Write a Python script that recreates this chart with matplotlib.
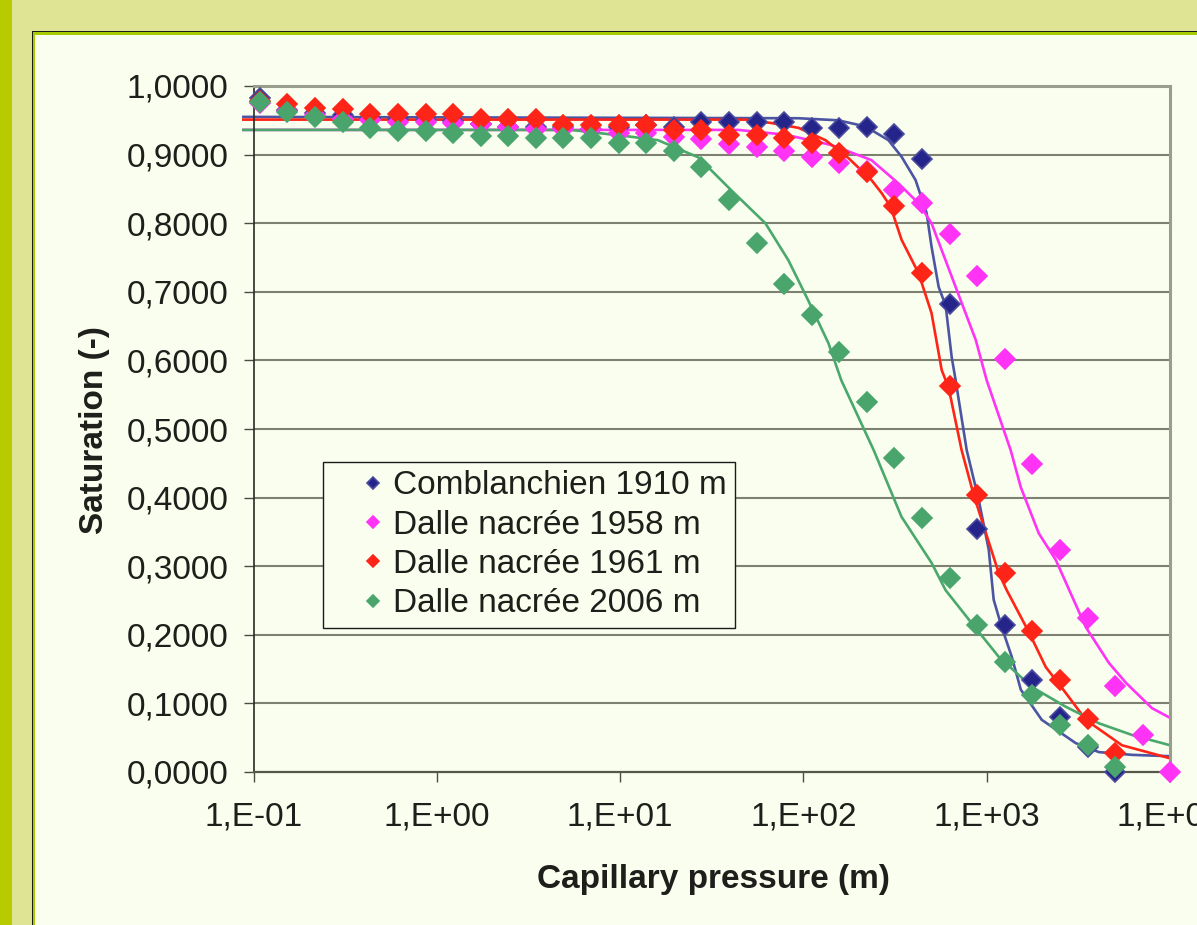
import matplotlib
matplotlib.use("Agg")
import matplotlib.pyplot as plt
from matplotlib.patches import Rectangle
from matplotlib.ticker import FixedLocator, FixedFormatter, NullLocator

plt.rcParams['font.family'] = ['Liberation Sans', 'DejaVu Sans']

# ---------------- data ----------------
pressure = [0.108, 0.153, 0.217, 0.307, 0.434, 0.614, 0.868, 1.23, 1.74, 2.45,
            3.47, 4.91, 6.94, 9.82, 13.9, 19.6, 27.8, 39.3, 55.5, 78.5,
            111, 157, 222, 314, 444, 628, 888, 1256, 1777, 2512,
            3553, 5023, 7104, 10000]

comb_1910 = [0.982, 0.965, 0.960, 0.957, 0.953, 0.952, 0.950, 0.949, 0.945, 0.940,
             0.940, 0.940, 0.938, 0.940, 0.943, 0.940, 0.948, 0.948, 0.948, 0.948,
             0.939, 0.939, 0.940, 0.930, 0.894, 0.682, 0.354, 0.214, 0.134, 0.080,
             0.036, 0.000]
dalle_1958 = [0.975, 0.963, 0.958, 0.952, 0.950, 0.948, 0.948, 0.946, 0.945, 0.940,
              0.938, 0.937, 0.937, 0.931, 0.931, 0.926, 0.923, 0.915, 0.911, 0.905,
              0.896, 0.888, 0.876, 0.848, 0.829, 0.784, 0.723, 0.602, 0.449, 0.324,
              0.224, 0.126, 0.054, 0.000]
dalle_1961 = [0.978, 0.974, 0.968, 0.966, 0.959, 0.959, 0.959, 0.959, 0.952, 0.952,
              0.952, 0.943, 0.943, 0.943, 0.943, 0.936, 0.936, 0.929, 0.929, 0.924,
              0.917, 0.902, 0.875, 0.825, 0.727, 0.563, 0.404, 0.290, 0.206, 0.134,
              0.077, 0.028]
dalle_2006 = [0.977, 0.962, 0.955, 0.948, 0.939, 0.934, 0.934, 0.931, 0.927, 0.927,
              0.924, 0.924, 0.924, 0.917, 0.917, 0.905, 0.882, 0.834, 0.771, 0.711,
              0.666, 0.612, 0.539, 0.458, 0.370, 0.283, 0.214, 0.160, 0.112, 0.069,
              0.039, 0.007]

# fitted curves
fit_1910_x = [0.088, 94, 155, 218, 291, 343, 409, 470, 500, 547, 597, 644, 677, 778,
              904, 1026, 1092, 1208, 1370, 1535, 1998, 3064, 4093, 6200, 10000]
fit_1910_y = [0.955, 0.953, 0.950, 0.941, 0.921, 0.897, 0.863, 0.815, 0.766, 0.707,
              0.680, 0.605, 0.571, 0.469, 0.397, 0.324, 0.251, 0.211, 0.168, 0.120,
              0.076, 0.042, 0.029, 0.025, 0.023]
fit_1958_x = [0.088, 44, 80, 142, 235, 330, 425, 500, 677, 871, 1000, 1352, 1535,
              1923, 2383, 3475, 4643, 5751, 7980, 10000]
fit_1958_y = [0.936, 0.936, 0.929, 0.914, 0.892, 0.858, 0.829, 0.800, 0.707, 0.630,
              0.571, 0.469, 0.415, 0.348, 0.309, 0.211, 0.159, 0.130, 0.093, 0.079]
fit_1961_x = [0.088, 48, 67, 94, 132, 176, 235, 267, 299, 343, 425, 500, 568, 620,
              730, 849, 1163, 1286, 1698, 2100, 2704, 3475, 5468, 10000]
fit_1961_y = [0.951, 0.951, 0.946, 0.939, 0.921, 0.895, 0.863, 0.844, 0.824, 0.776,
              0.727, 0.669, 0.586, 0.560, 0.469, 0.404, 0.290, 0.265, 0.204, 0.153,
              0.115, 0.076, 0.039, 0.020]
fit_2006_x = [0.088, 5.4, 7.9, 11.5, 16.1, 26.7, 40.4, 62, 82.8, 106, 137, 161, 242,
              343, 500, 597, 828, 1163, 1762, 2704, 4093, 6200, 10000]
fit_2006_y = [0.936, 0.936, 0.931, 0.926, 0.921, 0.896, 0.848, 0.800, 0.746, 0.688,
              0.625, 0.571, 0.469, 0.372, 0.305, 0.265, 0.217, 0.168, 0.124, 0.095,
              0.071, 0.054, 0.039]

labels = ["Comblanchien 1910 m", "Dalle nacrée 1958 m",
          "Dalle nacrée 1961 m", "Dalle nacrée 2006 m"]
x_ticks = [0.1, 1, 10, 100, 1000, 10000]
x_tick_labels = ["1,E-01", "1,E+00", "1,E+01", "1,E+02", "1,E+03", "1,E+04"]
y_ticks = [0.0, 0.1, 0.2, 0.3, 0.4, 0.5, 0.6, 0.7, 0.8, 0.9, 1.0]
y_tick_labels = ["0,0000", "0,1000", "0,2000", "0,3000", "0,4000", "0,5000",
                 "0,6000", "0,7000", "0,8000", "0,9000", "1,0000"]

# ---------------- figure ----------------
W, H = 1197, 925
fig = plt.figure(figsize=(W / 100, H / 100), dpi=100, facecolor='#dfe394')

def frect(x0, y0, x1, y1, color, z):
    fig.add_artist(Rectangle((x0 / W, 1 - y1 / H), (x1 - x0) / W, (y1 - y0) / H,
                             transform=fig.transFigure, facecolor=color,
                             edgecolor='none', zorder=z))

frect(0, 0, 12, H, '#b8cb00', 0)
frect(32, 31, W + 10, H + 10, '#1a1a1a', 0)
frect(33, 32, W + 10, H + 10, '#a6cc00', 0)
frect(35, 35, W + 10, H + 10, '#fafeef', 0)

left, right, top, bottom = 253.5, 1170, 86, 772
ax = fig.add_axes([left / W, 1 - bottom / H, (right - left) / W, (bottom - top) / H])
ax.set_facecolor('#fafeef')
ax.set_xscale('log')
ax.set_xlim(0.1, 10000)
ax.set_ylim(0, 1.0)

series = [
    (comb_1910, pressure[:len(comb_1910)], fit_1910_x, fit_1910_y, '#24248a', '#4a4a9e', '#4b55a3'),
    (dalle_1958, pressure[:len(dalle_1958)], fit_1958_x, fit_1958_y, '#ff33f5', '#ff33f5', '#ff33f5'),
    (dalle_1961, pressure[:len(dalle_1961)], fit_1961_x, fit_1961_y, '#ff2418', '#ff2418', '#ff2418'),
    (dalle_2006, pressure[:len(dalle_2006)], fit_2006_x, fit_2006_y, '#4aa56c', '#4aa56c', '#4aa86c'),
]

for vals, px, fx, fy, fc, ec, lc in series:
    ax.plot(fx, fy, color=lc, lw=1.9, zorder=2, clip_on=False)

handles = []
for (vals, px, fx, fy, fc, ec, lc), lab in zip(series, labels):
    h, = ax.plot(px, vals, linestyle='none', marker='D', markersize=9.8,
                 markerfacecolor=fc, markeredgecolor=ec, markeredgewidth=1.2,
                 zorder=3, clip_on=False, label=lab)
    handles.append(h)

# grid
for yv in y_ticks[1:-1]:
    ax.axhline(yv, color='#7e8072', lw=1.5, zorder=1)

ax.xaxis.set_major_locator(FixedLocator(x_ticks))
ax.xaxis.set_major_formatter(FixedFormatter(x_tick_labels))
ax.xaxis.set_minor_locator(NullLocator())
ax.yaxis.set_major_locator(FixedLocator(y_ticks))
ax.yaxis.set_major_formatter(FixedFormatter(y_tick_labels))

ax.tick_params(axis='both', which='major', direction='out', length=7.2, width=1.0,
               colors='#4a4c40', labelsize=24, labelcolor='#1e1e1a')
ax.tick_params(axis='x', pad=14)
ax.tick_params(axis='y', pad=11)

for s in ['top', 'right']:
    ax.spines[s].set_color('#9a9c8c')
    ax.spines[s].set_linewidth(2.2)
ax.spines['left'].set_color('#2a2a24')
ax.spines['left'].set_linewidth(1.2)
ax.spines['bottom'].set_color('#55574a')
ax.spines['bottom'].set_linewidth(1.6)

ax.set_xlabel("Capillary pressure (m)", fontsize=24, fontweight='bold', color='#1e1e1a')
ax.set_ylabel("Saturation (-)", fontsize=24, fontweight='bold', color='#1e1e1a')
ax.xaxis.set_label_coords(0.5016, -0.134)
ax.yaxis.set_label_coords(-0.157, 0.4985)

leg = ax.legend(handles=handles, loc='upper left',
                bbox_to_anchor=((323 - left) / (right - left), (bottom - 462) / (bottom - top)),
                borderaxespad=0, fontsize=24, frameon=True, fancybox=False,
                edgecolor='#1a1a1a', facecolor='#fafeef', framealpha=1,
                markerscale=0.6, handlelength=2.5, handletextpad=-0.65,
                labelspacing=0.25, borderpad=0.25)
leg.get_frame().set_linewidth(1.0)
for t in leg.get_texts():
    t.set_color('#1e1e1a')
leg.set_zorder(5)

fig.savefig("out.png", dpi=100, facecolor=fig.get_facecolor())
